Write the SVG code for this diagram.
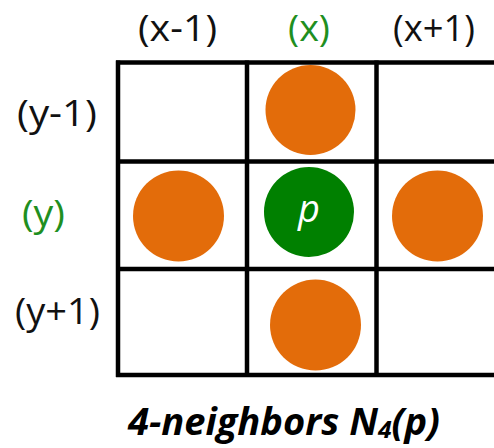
<svg xmlns="http://www.w3.org/2000/svg" width="494" height="448" viewBox="0 0 494 448">
<style>
.lbl{font-family:"Open Sans","Liberation Sans",sans-serif;font-size:36px;fill:#111;text-anchor:middle}
.grn{fill:#1f8f1f}
.grid line{stroke:#000;stroke-width:4.5}
.nb{fill:#E36C0A}
.ctr{fill:#008000}
.p{font-family:"Open Sans","Liberation Sans",sans-serif;font-style:italic;font-size:38px;fill:#fff;text-anchor:middle}
.title{font-family:"Open Sans","Liberation Sans",sans-serif;font-style:italic;font-weight:bold;font-size:37px;fill:#000}
</style>
<rect width="494" height="448" fill="#fff"/>
<g id="connectors" class="grid">
<line x1="116" y1="62.5" x2="494" y2="62.5"/>
<line x1="116" y1="161.5" x2="494" y2="161.5"/>
<line x1="116" y1="269" x2="494" y2="269"/>
<line x1="116" y1="375" x2="494" y2="375"/>
<line x1="118" y1="60.5" x2="118" y2="377"/>
<line x1="247" y1="60.5" x2="247" y2="377"/>
<line x1="376.5" y1="60.5" x2="376.5" y2="377"/>
</g>
<g id="label-x-1"><text class="lbl" x="177.5" y="41" textLength="79" lengthAdjust="spacingAndGlyphs">(x-1)</text></g>
<g id="label-x"><text class="lbl grn" x="309" y="41" textLength="42" lengthAdjust="spacingAndGlyphs">(x)</text></g>
<g id="label-x+1"><text class="lbl" x="434" y="41" textLength="82" lengthAdjust="spacingAndGlyphs">(x+1)</text></g>
<g id="label-y-1"><text class="lbl" x="57" y="126" textLength="80" lengthAdjust="spacingAndGlyphs">(y-1)</text></g>
<g id="label-y"><text class="lbl grn" x="43.5" y="226" textLength="43" lengthAdjust="spacingAndGlyphs">(y)</text></g>
<g id="label-y+1"><text class="lbl" x="57.5" y="324" textLength="85" lengthAdjust="spacingAndGlyphs">(y+1)</text></g>
<g id="n-top"><circle class="nb" cx="310.5" cy="110" r="45"/></g>
<g id="n-left"><circle class="nb" cx="178.5" cy="216" r="45.5"/></g>
<g id="p"><circle class="ctr" cx="309" cy="212" r="45"/><text class="p" x="309" y="222">p</text></g>
<g id="n-right"><circle class="nb" cx="437.5" cy="216" r="45.5"/></g>
<g id="n-bottom"><circle class="nb" cx="315.5" cy="325" r="45.5"/></g>
<g id="title"><text class="title" x="128" y="435" textLength="312" lengthAdjust="spacingAndGlyphs">4-neighbors N<tspan font-size="24" dy="3">4</tspan><tspan dy="-3">(p)</tspan></text></g>
</svg>
